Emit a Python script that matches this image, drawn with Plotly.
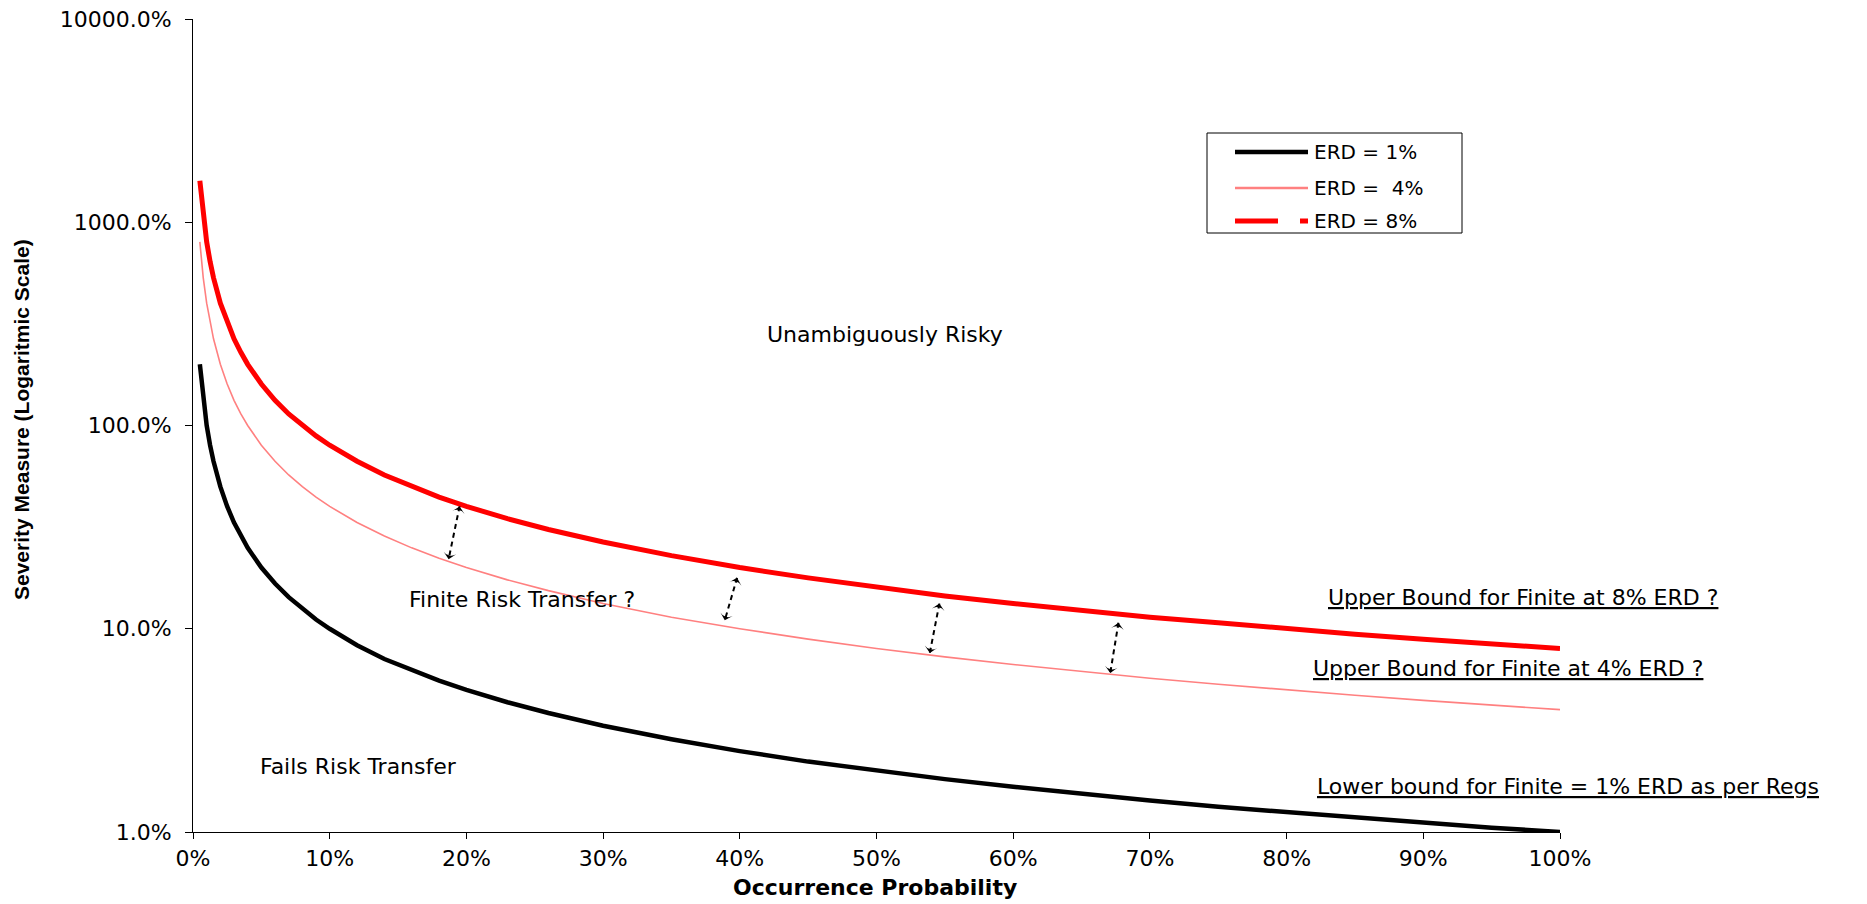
import math
import plotly.graph_objects as go

# ---------------- data ----------------
occurrence_prob = [0.005, 0.0075, 0.01, 0.0125, 0.015, 0.02, 0.025, 0.03, 0.035, 0.04,
                   0.05, 0.06, 0.07, 0.08, 0.09, 0.10, 0.12, 0.14, 0.16, 0.18,
                   0.20, 0.23, 0.26, 0.30, 0.35, 0.40, 0.45, 0.50, 0.55, 0.60,
                   0.65, 0.70, 0.75, 0.80, 0.85, 0.90, 0.95, 1.00]

severity_erd1 = [2.00, 1.33, 1.00, 0.80, 0.667, 0.50, 0.40, 0.333, 0.286, 0.25,
                 0.20, 0.167, 0.143, 0.125, 0.111, 0.100, 0.083, 0.071, 0.0625, 0.0556,
                 0.050, 0.0435, 0.0385, 0.0333, 0.0286, 0.025, 0.0222, 0.020, 0.0182, 0.0167,
                 0.0154, 0.0143, 0.0133, 0.0125, 0.0118, 0.0111, 0.0105, 0.010]

severity_erd4 = [8.0, 5.33, 4.0, 3.2, 2.67, 2.0, 1.6, 1.33, 1.14, 1.0,
                 0.80, 0.667, 0.571, 0.50, 0.444, 0.40, 0.333, 0.286, 0.25, 0.222,
                 0.20, 0.174, 0.154, 0.133, 0.114, 0.10, 0.0889, 0.080, 0.0727, 0.0667,
                 0.0615, 0.0571, 0.0533, 0.050, 0.0471, 0.0444, 0.0421, 0.040]

severity_erd8 = [16.0, 10.67, 8.0, 6.4, 5.33, 4.0, 3.2, 2.67, 2.29, 2.0,
                 1.6, 1.33, 1.14, 1.0, 0.889, 0.80, 0.667, 0.571, 0.50, 0.444,
                 0.40, 0.348, 0.308, 0.267, 0.229, 0.20, 0.178, 0.16, 0.145, 0.133,
                 0.123, 0.114, 0.107, 0.10, 0.094, 0.0889, 0.0842, 0.080]

series_names = ["ERD = 1%", "ERD = \u00a04%", "ERD = 8%"]

x_tick_vals = [0.0, 0.1, 0.2, 0.3, 0.4, 0.5, 0.6, 0.7, 0.8, 0.9, 1.0]
y_tick_vals = [0.01, 0.1, 1, 10, 100]

# double-headed arrows between the 4% and 8% curves
arrow_x_top = [0.195, 0.398, 0.546, 0.677]
arrow_y_top = [0.40, 0.178, 0.133, 0.107]
arrow_x_bot = [0.187, 0.389, 0.539, 0.671]
arrow_y_bot = [0.22, 0.110, 0.076, 0.0606]

region_labels = ["Unambiguously Risky", "Finite Risk Transfer ?", "Fails Risk Transfer"]
region_x = [0.506, 0.241, 0.121]
region_y = [2.79, 0.140, 0.0209]

bound_labels = ["Upper Bound for Finite at 8% ERD ?",
                "Upper Bound for Finite at 4% ERD ?",
                "Lower bound for Finite = 1% ERD as per Regs"]
bound_x = [0.973, 0.962, 1.006]
bound_y = [0.143, 0.0634, 0.0168]

# ---------------- layout geometry ----------------
# the page body has an 8px default margin; figure is sized to fit inside the window
OFF = 8
W, H = 1867 - OFF, 904 - OFF
ML, MR, MT, MB = 193 - OFF, 307, 19 - OFF, 72
PW, PH = W - ML - MR, H - MT - MB
PLOT_LEFT = OFF + ML
PLOT_BOTTOM = OFF + H - MB
FONT = "DejaVu Sans, Verdana, sans-serif"
FONT_B = "Liberation Sans, Arial, sans-serif"


def px_to_paper_x(px):
    return (px - PLOT_LEFT) / PW


def px_to_paper_y(py):
    return (PLOT_BOTTOM - py) / PH


fig = go.Figure()

fig.add_trace(go.Scatter(x=occurrence_prob, y=severity_erd1, mode="lines",
                         name=series_names[0], showlegend=False,
                         line=dict(color="#000000", width=4.5)))
fig.add_trace(go.Scatter(x=occurrence_prob, y=severity_erd4, mode="lines",
                         name=series_names[1], showlegend=False,
                         line=dict(color="#FF8080", width=1.6)))
fig.add_trace(go.Scatter(x=occurrence_prob, y=severity_erd8, mode="lines",
                         name=series_names[2], showlegend=False,
                         line=dict(color="#FF0000", width=5)))

# arrows
for xt, yt, xb, yb in zip(arrow_x_top, arrow_y_top, arrow_x_bot, arrow_y_bot):
    dx = (xt - xb) * PW
    dy = (math.log10(yt) - math.log10(yb)) * PH / 4.0
    ang = math.degrees(math.atan2(dx, dy))
    fig.add_trace(go.Scatter(x=[xt, xb], y=[yt, yb], mode="lines+markers",
                             showlegend=False, hoverinfo="skip",
                             line=dict(color="black", width=2, dash="5px,4px"),
                             marker=dict(symbol="arrow-wide", size=9, color="black",
                                         angle=[ang, ang + 180])))

annotations = []
for t, x, y in zip(region_labels, region_x, region_y):
    annotations.append(dict(text=t, x=x, y=math.log10(y), xref="x", yref="y",
                            showarrow=False, xanchor="center", yanchor="middle",
                            font=dict(family=FONT, size=22, color="black")))
for t, x, y in zip(bound_labels, bound_x, bound_y):
    annotations.append(dict(text="<u>" + t + "</u>", x=x, y=math.log10(y),
                            xref="paper", yref="y",
                            showarrow=False, xanchor="center", yanchor="middle",
                            font=dict(family=FONT, size=22, color="black")))

# axis titles
annotations.append(dict(text="<b>Occurrence Probability</b>", x=px_to_paper_x(875),
                        y=px_to_paper_y(887), xref="paper", yref="paper",
                        showarrow=False, xanchor="center", yanchor="middle",
                        font=dict(family=FONT, size=22, color="black")))
annotations.append(dict(text="<b>Severity Measure (Logaritmic Scale)</b>",
                        x=px_to_paper_x(21), y=px_to_paper_y(420),
                        xref="paper", yref="paper", textangle=-90,
                        showarrow=False, xanchor="center", yanchor="middle",
                        font=dict(family=FONT_B, size=21, color="black")))

# manual legend
shapes = [dict(type="rect", xref="paper", yref="paper",
               x0=px_to_paper_x(1207), x1=px_to_paper_x(1462),
               y0=px_to_paper_y(233), y1=px_to_paper_y(133),
               line=dict(color="black", width=1), fillcolor="white")]
row_y = [152, 188, 221]
shapes.append(dict(type="line", xref="paper", yref="paper",
                   x0=px_to_paper_x(1235), x1=px_to_paper_x(1308),
                   y0=px_to_paper_y(row_y[0]), y1=px_to_paper_y(row_y[0]),
                   line=dict(color="black", width=4.5)))
shapes.append(dict(type="line", xref="paper", yref="paper",
                   x0=px_to_paper_x(1235), x1=px_to_paper_x(1308),
                   y0=px_to_paper_y(row_y[1]), y1=px_to_paper_y(row_y[1]),
                   line=dict(color="#FF8080", width=2.5)))
shapes.append(dict(type="line", xref="paper", yref="paper",
                   x0=px_to_paper_x(1235), x1=px_to_paper_x(1278),
                   y0=px_to_paper_y(row_y[2]), y1=px_to_paper_y(row_y[2]),
                   line=dict(color="#FF0000", width=5)))
shapes.append(dict(type="line", xref="paper", yref="paper",
                   x0=px_to_paper_x(1300), x1=px_to_paper_x(1308),
                   y0=px_to_paper_y(row_y[2]), y1=px_to_paper_y(row_y[2]),
                   line=dict(color="#FF0000", width=5)))
for name, ry in zip(series_names, row_y):
    annotations.append(dict(text=name, x=px_to_paper_x(1312), y=px_to_paper_y(ry),
                            xref="paper", yref="paper", showarrow=False,
                            xanchor="left", yanchor="middle",
                            font=dict(family=FONT, size=20, color="black")))

fig.update_layout(
    width=W, height=H, autosize=False,
    margin=dict(l=ML, r=MR, t=MT, b=MB, autoexpand=False),
    paper_bgcolor="white", plot_bgcolor="white",
    showlegend=False,
    font=dict(family=FONT, size=22, color="black"),
    annotations=annotations, shapes=shapes,
    xaxis=dict(range=[0, 1], tickvals=x_tick_vals, tickformat=".0%",
               automargin=False,
               showgrid=False, zeroline=False, showline=True, linecolor="black",
               linewidth=1, ticks="outside", ticklen=6, tickcolor="black",
               ticklabelstandoff=1, ticklabeloverflow="allow",
               tickfont=dict(family=FONT, size=22)),
    yaxis=dict(type="log", range=[-2, 2], tickvals=y_tick_vals, tickformat=".1%",
               automargin=False,
               showgrid=False, zeroline=False, showline=True, linecolor="black",
               linewidth=1, ticks="outside", ticklen=7, tickcolor="black",
               ticklabelstandoff=9, ticklabeloverflow="allow",
               tickfont=dict(family=FONT, size=22)),
)

fig.write_html("out.html")
